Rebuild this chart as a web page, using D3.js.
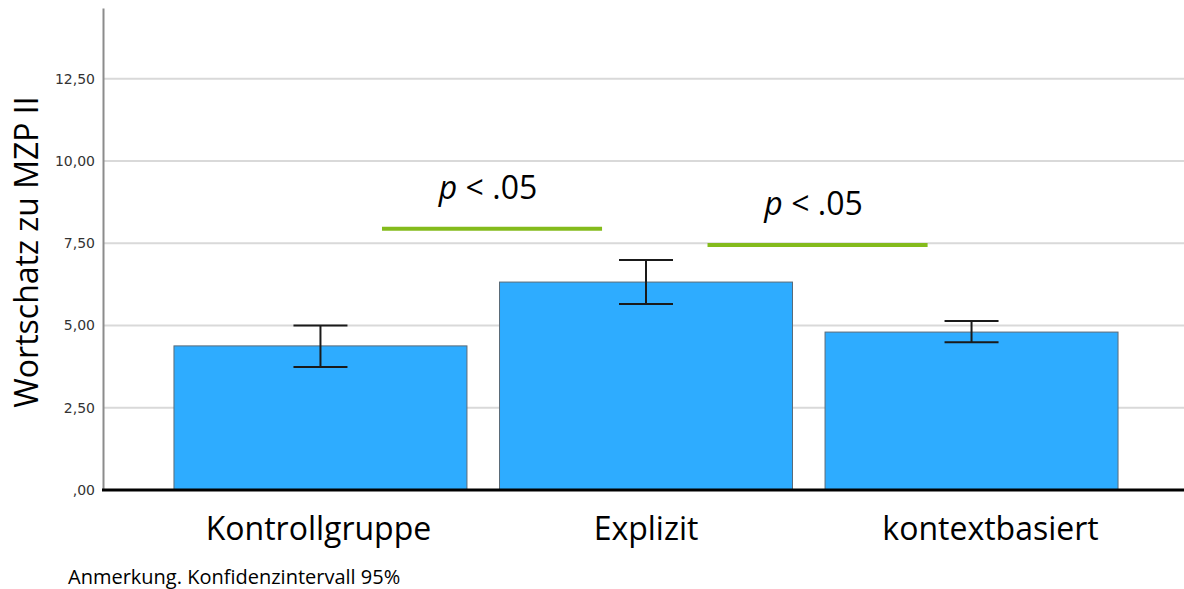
<!DOCTYPE html>
<html lang="de">
<head>
  <meta charset="UTF-8">
  <title>Wortschatz zu MZP II</title>
  <style>
    * {
      margin: 0;
      padding: 0;
    }
    body {
      background: #fff;
    }
  </style>
</head>
<body>
  <script src="https://d3js.org/d3.v7.min.js"></script>
  <script>
    // data
    const categories = ['Kontrollgruppe', 'Explizit', 'kontextbasiert']
    const means = [4.38, 6.32, 4.80]
    const ciLow = [3.74, 5.65, 4.49]
    const ciHigh = [5.00, 6.99, 5.14]
    const yTicks = [0, 2.5, 5, 7.5, 10, 12.5]
    const sigPairs = [
      { from: 'Kontrollgruppe', to: 'Explizit', y: 7.94, label: '< .05' },
      { from: 'Explizit', to: 'kontextbasiert', y: 7.45, label: '< .05' },
    ]

    const width = 1184
    const height = 589
    const plot = { left: 103, right: 1189, top: 8, bottom: 490 }
    // category labels are not exactly centred in the original
    const labelShift = [-2, 0, 19]

    const svg = d3.select('body')
      .append('svg')
      .attr('width', width)
      .attr('height', height)
      .style('font-family', '"Open Sans", sans-serif')

    const xScale = d3.scaleBand()
      .domain(categories)
      .range([plot.left, plot.right])
      .paddingInner(0.1)
      .paddingOuter(0.218)

    const yScale = d3.scaleLinear()
      .domain([0, 14.65])
      .range([plot.bottom, plot.top])

    const fmt = v => d3.format('.2f')(v).replace('.', ',').replace(/^0/, '')

    // gridlines
    svg.append('g')
      .selectAll('line')
      .data(yTicks.filter(t => t > 0))
      .enter()
      .append('line')
      .attr('x1', plot.left)
      .attr('x2', width)
      .attr('y1', d => yScale(d))
      .attr('y2', d => yScale(d))
      .attr('stroke', '#d9d9d9')
      .attr('stroke-width', 2)

    // y axis
    const yAxis = d3.axisLeft(yScale)
      .tickValues(yTicks)
      .tickSize(0)
      .tickPadding(8)
      .tickFormat(fmt)
    const gy = svg.append('g')
      .attr('transform', `translate(${plot.left}, 0)`)
      .call(yAxis)
    gy.select('.domain').attr('stroke', '#8c8c8c').attr('stroke-width', 2)
    gy.selectAll('text')
      .attr('fill', '#333')
      .style('font-family', '"DejaVu Sans", sans-serif')
      .style('font-size', '14px')

    // bars
    const data = categories.map((c, i) => ({ name: c, mean: means[i], lo: ciLow[i], hi: ciHigh[i] }))

    svg.append('g')
      .selectAll('rect')
      .data(data)
      .enter()
      .append('rect')
      .attr('x', d => xScale(d.name))
      .attr('y', d => yScale(d.mean))
      .attr('width', xScale.bandwidth())
      .attr('height', d => plot.bottom - yScale(d.mean))
      .attr('fill', '#2eacff')
      .attr('stroke', '#5a6b78')
      .attr('stroke-width', 1)

    // error bars
    const cap = 27
    const eg = svg.append('g')
      .attr('stroke', '#1a1a1a')
      .attr('stroke-width', 2)
    const cx = d => xScale(d.name) + xScale.bandwidth() / 2
    eg.selectAll('.v')
      .data(data)
      .enter()
      .append('line')
      .attr('x1', cx).attr('x2', cx)
      .attr('y1', d => yScale(d.lo))
      .attr('y2', d => yScale(d.hi))
    eg.selectAll('.hi')
      .data(data)
      .enter()
      .append('line')
      .attr('x1', d => cx(d) - cap).attr('x2', d => cx(d) + cap)
      .attr('y1', d => yScale(d.hi))
      .attr('y2', d => yScale(d.hi))
    eg.selectAll('.lo')
      .data(data)
      .enter()
      .append('line')
      .attr('x1', d => cx(d) - cap).attr('x2', d => cx(d) + cap)
      .attr('y1', d => yScale(d.lo))
      .attr('y2', d => yScale(d.lo))

    // baseline
    svg.append('line')
      .attr('x1', plot.left - 1)
      .attr('x2', width)
      .attr('y1', yScale(0))
      .attr('y2', yScale(0))
      .attr('stroke', '#000')
      .attr('stroke-width', 3)

    // significance lines
    const bw = xScale.bandwidth()
    const sx1 = d => xScale(d.from) + bw * 0.71
    const sx2 = d => xScale(d.to) + bw * 0.35
    const sg = svg.append('g')
    sg.selectAll('line')
      .data(sigPairs)
      .enter()
      .append('line')
      .attr('x1', sx1)
      .attr('x2', sx2)
      .attr('y1', d => yScale(d.y))
      .attr('y2', d => yScale(d.y))
      .attr('stroke', '#84bb1c')
      .attr('stroke-width', 4)
    const st = sg.selectAll('text')
      .data(sigPairs)
      .enter()
      .append('text')
      .attr('x', d => (sx1(d) + sx2(d)) / 2 - 4)
      .attr('y', d => yScale(d.y) - 30)
      .attr('text-anchor', 'middle')
      .attr('fill', '#000')
      .style('font-size', '32px')
    st.append('tspan')
      .attr('font-style', 'italic')
      .text('p')
    st.append('tspan')
      .text(d => ' ' + d.label)

    // category labels
    svg.append('g')
      .selectAll('text')
      .data(categories)
      .enter()
      .append('text')
      .attr('x', (d, i) => xScale(d) + bw / 2 + labelShift[i])
      .attr('y', 540)
      .attr('text-anchor', 'middle')
      .attr('fill', '#000')
      .style('font-size', '32px')
      .text(d => d)

    // y title
    svg.append('text')
      .attr('transform', `translate(38, ${(97 + 407) / 2}) rotate(-90)`)
      .attr('text-anchor', 'middle')
      .attr('fill', '#000')
      .style('font-size', '32px')
      .text('Wortschatz zu MZP II')

    // note
    svg.append('text')
      .attr('x', 68)
      .attr('y', 584)
      .attr('fill', '#000')
      .style('font-size', '20px')
      .text('Anmerkung. Konfidenzintervall 95%')
  </script>
</body>
</html>
